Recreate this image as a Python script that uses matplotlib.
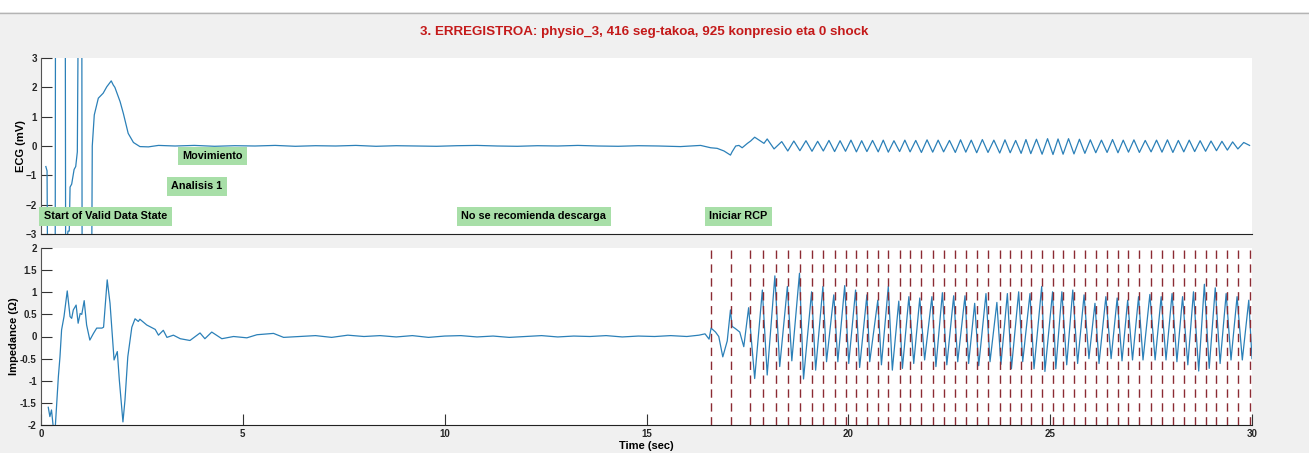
import numpy as np
import matplotlib.pyplot as plt
from matplotlib.patches import Rectangle
from matplotlib.lines import Line2D

plt.rcParams['font.family'] = ['Liberation Sans', 'DejaVu Sans']

title = "3. ERREGISTROA: physio_3, 416 seg-takoa, 925 konpresio eta 0 shock"

# compression marks (sec)
comp_t = [16.60, 17.10, 17.56, 17.88, 18.20, 18.50, 18.80, 19.10, 19.38, 19.66,
          19.93, 20.20, 20.46, 20.74, 20.99, 21.27, 21.53, 21.81, 22.09, 22.36,
          22.65, 22.91, 23.18, 23.46, 23.75, 24.01, 24.28, 24.52, 24.80, 25.07,
          25.32, 25.59, 25.86, 26.13, 26.41, 26.68, 26.94, 27.21, 27.50, 27.77,
          28.04, 28.31, 28.58, 28.85, 29.12, 29.39, 29.65, 29.94]

# ECG before CPR (values outside +-3 are clipped by the axes)
ecg_t = [0.12, 0.15, 0.17, 0.35, 0.36, 0.60, 0.61, 0.67, 0.70, 0.72, 0.76, 0.82,
         0.86, 0.90, 0.93, 1.01, 1.02, 1.25, 1.27, 1.32, 1.42, 1.54, 1.63, 1.74,
         1.79, 1.83, 1.96, 2.04, 2.16, 2.29, 2.45, 2.66, 2.91, 3.32, 3.8, 4.3,
         4.8, 5.3, 5.8, 6.3, 6.8, 7.3, 7.8, 8.3, 8.8, 9.3, 9.8, 10.3, 10.8, 11.3,
         11.8, 12.3, 12.8, 13.3, 13.8, 14.3, 14.8, 15.3, 15.84, 16.09, 16.34,
         16.59, 16.75, 16.92, 17.08, 17.12, 17.21, 17.29, 17.37, 17.50, 17.58,
         17.68, 17.79, 17.91, 17.99, 18.08, 18.16]
ecg_v = [-0.70, -0.85, -6, -6, 6, 6, -3.5, -2.9, -2.9, -1.40, -1.30, -0.80,
         -0.70, -0.20, 6, 6, -6, -6, 0.0, 1.06, 1.63, 1.80, 2.02, 2.22,
         2.08, 2.00, 1.51, 1.11, 0.43, 0.12, -0.02, -0.03, 0.02, 0.0, 0.02, -0.01,
         0.01, 0.0, 0.02, -0.01, 0.01, 0.0, 0.02, -0.01, 0.01, 0.0, -0.01, 0.01, 0.02, 0.0,
         -0.01, 0.01, 0.0, 0.02, 0.0, -0.01, 0.01, 0.0, -0.02, 0.0, 0.02,
         -0.06, -0.08, -0.17, -0.31, -0.20, 0.0, 0.02, -0.06, 0.09, 0.17,
         0.30, 0.20, 0.09, 0.24, 0.06, -0.10]

# ECG compression artefact: peaks between marks, troughs on marks (from 18.5 s)
ecg_pk_v = [0.15, 0.17, 0.18, 0.16, 0.19, 0.18, 0.2, 0.18, 0.19, 0.2,
            0.18, 0.2, 0.19, 0.21, 0.2, 0.19, 0.21, 0.2, 0.22, 0.2,
            0.21, 0.19, 0.22, 0.23, 0.25, 0.24, 0.25, 0.23, 0.21, 0.2,
            0.22, 0.2, 0.21, 0.19, 0.2, 0.21, 0.19, 0.2, 0.18, 0.17,
            0.16, 0.14, 0.12]
ecg_tr_v = [-0.17, -0.16, -0.18, -0.17, -0.19, -0.18, -0.2, -0.19, -0.2, -0.21,
            -0.19, -0.2, -0.22, -0.21, -0.2, -0.22, -0.21, -0.23, -0.22, -0.24,
            -0.23, -0.25, -0.26, -0.28, -0.29, -0.28, -0.27, -0.25, -0.23, -0.22,
            -0.23, -0.21, -0.22, -0.2, -0.21, -0.22, -0.2, -0.19, -0.18, -0.16,
            -0.14, -0.1, 0.02]

# impedance before CPR
imp_t = [0.18, 0.22, 0.26, 0.31, 0.35, 0.43, 0.47, 0.51, 0.57, 0.65, 0.72, 0.76,
         0.80, 0.87, 0.92, 0.97, 1.01, 1.07, 1.13, 1.21, 1.30, 1.38, 1.51, 1.55,
         1.64, 1.71, 1.81, 1.89, 1.94, 2.03, 2.08, 2.15, 2.25, 2.33, 2.41, 2.45,
         2.62, 2.83, 2.91, 3.03, 3.12, 3.28, 3.45, 3.69, 3.94, 4.06, 4.23, 4.48,
         4.77, 5.10, 5.35, 5.76, 6.01, 6.42, 6.8, 7.2, 7.6, 8.0, 8.4, 8.8, 9.2,
         9.6, 10.0, 10.4, 10.8, 11.2, 11.6, 12.0, 12.4, 12.8, 13.2, 13.6, 14.0,
         14.4, 14.8, 15.2, 15.6, 16.0, 16.3, 16.45, 16.55, 16.60, 16.71, 16.79,
         16.89, 17.00, 17.08, 17.12, 17.20, 17.31, 17.41]
imp_v = [-1.60, -1.81, -1.66, -2.1, -2.1, -0.91, -0.46, 0.15, 0.45, 1.03, 0.45, 0.41,
         0.60, 0.71, 0.30, 0.52, 0.50, 0.81, 0.26, -0.08, 0.07, 0.19, 0.19, 0.21,
         1.28, 0.75, -0.53, -0.34, -0.98, -1.93, -1.44, -0.46, 0.21, 0.40, 0.34, 0.39,
         0.26, 0.16, 0.03, 0.14, -0.02, 0.03, -0.05, -0.09, 0.08, -0.05, 0.10, -0.05,
         0.0, -0.03, 0.04, 0.07, -0.02, 0.0, 0.02, -0.02, 0.03, 0.0, 0.02, -0.01, 0.02,
         -0.02, 0.01, 0.02, -0.01, 0.01, -0.02, 0.0, 0.02, -0.01, 0.01, 0.0, 0.02,
         -0.01, 0.01, 0.0, 0.02, 0.0, 0.03, 0.06, -0.06, 0.19, 0.10, 0.0,
         -0.46, -0.10, 0.60, 0.23, 0.18, 0.10, -0.23]

# impedance during CPR: peak / trough of each compression
imp_pk_t = [17.53, 17.87, 18.18, 18.49, 18.79, 19.09, 19.37, 19.64, 19.91, 20.18,
            20.46, 20.73, 20.99, 21.25, 21.50, 21.77, 22.07, 22.33, 22.61, 22.89,
            23.13, 23.41, 23.68, 23.94, 24.22, 24.50, 24.79, 25.06, 25.29, 25.56,
            25.84, 26.11, 26.38, 26.66, 26.92, 27.19, 27.47, 27.75, 28.02, 28.28,
            28.55, 28.82, 29.09, 29.36, 29.63, 29.92]
imp_pk_v = [0.65, 1.05, 1.37, 1.13, 1.43, 1.01, 1.13, 0.94, 1.15, 1.05,
            0.94, 0.82, 1.13, 0.80, 0.90, 0.87, 0.90, 0.99, 0.92, 0.92,
            0.75, 0.97, 0.77, 0.97, 1.01, 0.97, 1.13, 1.01, 1.01, 1.05,
            0.94, 0.75, 0.90, 0.87, 0.82, 0.90, 0.95, 0.90, 0.97, 0.90,
            1.01, 1.18, 1.10, 0.97, 0.90, 0.82]
imp_tr_t = [17.68, 17.99, 18.30, 18.60, 18.89, 19.19, 19.46, 19.74, 20.01, 20.28,
            20.53, 20.82, 21.09, 21.34, 21.62, 21.89, 22.17, 22.44, 22.71, 22.98,
            23.23, 23.51, 23.78, 24.04, 24.32, 24.60, 24.87, 25.14, 25.41, 25.68,
            25.96, 26.21, 26.51, 26.78, 27.04, 27.30, 27.60, 27.87, 28.14, 28.41,
            28.68, 28.94, 29.21, 29.48, 29.76, 30.0]
imp_tr_v = [-0.95, -0.87, -0.68, -0.55, -0.96, -0.76, -0.57, -0.57, -0.61, -0.70,
            -0.57, -0.64, -0.76, -0.72, -0.61, -0.53, -0.68, -0.64, -0.57, -0.61,
            -0.66, -0.57, -0.63, -0.73, -0.57, -0.73, -0.79, -0.73, -0.64, -0.61,
            -0.50, -0.61, -0.50, -0.55, -0.53, -0.53, -0.53, -0.53, -0.57, -0.64,
            -0.78, -0.72, -0.61, -0.53, -0.53, -0.50]

# event annotations (time, level in mV)
ev_text = ["Start of Valid Data State", "Analisis 1", "Movimiento",
           "No se recomienda descarga", "Iniciar RCP"]
ev_t = [0.07, 3.22, 3.50, 10.41, 16.56]
ev_y = [-2.39, -1.38, -0.34, -2.39, -2.39]

# assemble signals
comp = np.array(comp_t)
ecg_cpr_t = np.column_stack(((comp[4:-1] + comp[5:]) / 2, comp[5:])).ravel()
ecg_cpr_v = np.column_stack((ecg_pk_v, ecg_tr_v)).ravel()
ecg_x = np.concatenate((ecg_t, ecg_cpr_t))
ecg_y = np.concatenate((ecg_v, ecg_cpr_v))

imp_x = np.concatenate((imp_t, np.column_stack((imp_pk_t, imp_tr_t)).ravel()))
imp_y = np.concatenate((imp_v, np.column_stack((imp_pk_v, imp_tr_v)).ravel()))

W, H = 1309, 453
fig = plt.figure(figsize=(W / 100, H / 100), dpi=100, facecolor='#f0f0f0')
fig.add_artist(Rectangle((0, 1 - 12 / H), 1, 12 / H, transform=fig.transFigure,
                         facecolor='white', edgecolor='none'))
fig.add_artist(Line2D([0, 1], [1 - 12.5 / H] * 2, transform=fig.transFigure,
                      color='#b4b4b4', lw=1))
fig.text(644.5 / W, 1 - 32 / H, title, color='#c41a1a', fontsize=9.6,
         fontweight='bold', ha='center', va='center')

left, width = 41 / W, 1211 / W
ax1 = fig.add_axes([left, 1 - 234 / H, width, 176 / H])
ax2 = fig.add_axes([left, 1 - 425 / H, width, 177 / H])

line_c = '#2b80b8'
ax1.plot(ecg_x, ecg_y, color=line_c, lw=0.9)
ax2.plot(imp_x, imp_y, color=line_c, lw=0.9)
for t in comp_t:
    ax2.axvline(t, color='#8b2b33', lw=1.0, ls=(0, (6, 4)))

for txt, t, y in zip(ev_text, ev_t, ev_y):
    ax1.text(t, y, txt, fontsize=7.8, fontweight='bold', color='black', va='center',
             ha='left', bbox=dict(facecolor='#a8dfa8', edgecolor='none', pad=3.2))

ax1.set_xlim(0, 30)
ax1.set_ylim(-3, 3)
ax1.set_yticks(range(-3, 4))
ax1.set_xticks([])
ax1.set_ylabel('ECG (mV)', fontsize=8, fontweight='bold', labelpad=0)

ax2.set_xlim(0, 30)
ax2.set_ylim(-2, 2)
ax2.set_yticks(np.arange(-2, 2.01, 0.5))
ax2.set_yticklabels(['-2', '-1.5', '-1', '-0.5', '0', '0.5', '1', '1.5', '2'])
ax2.set_xticks(range(0, 31, 5))
ax2.set_xlabel('Time (sec)', fontsize=8, fontweight='bold', labelpad=1)
ax2.set_ylabel('Impedance (\u03a9)', fontsize=8, fontweight='bold', labelpad=1)

for ax in (ax1, ax2):
    ax.set_facecolor('white')
    ax.spines['top'].set_visible(False)
    ax.spines['right'].set_visible(False)
    ax.spines['left'].set_color('#555555')
    ax.spines['bottom'].set_color('#222222')
    ax.tick_params(direction='in', length=8, width=0.8, color='#333333',
                   labelsize=7, pad=3)
    for lab in ax.get_xticklabels() + ax.get_yticklabels():
        lab.set_fontweight('bold')
        lab.set_color('#262626')

fig.savefig('out.png', dpi=100, facecolor=fig.get_facecolor())
